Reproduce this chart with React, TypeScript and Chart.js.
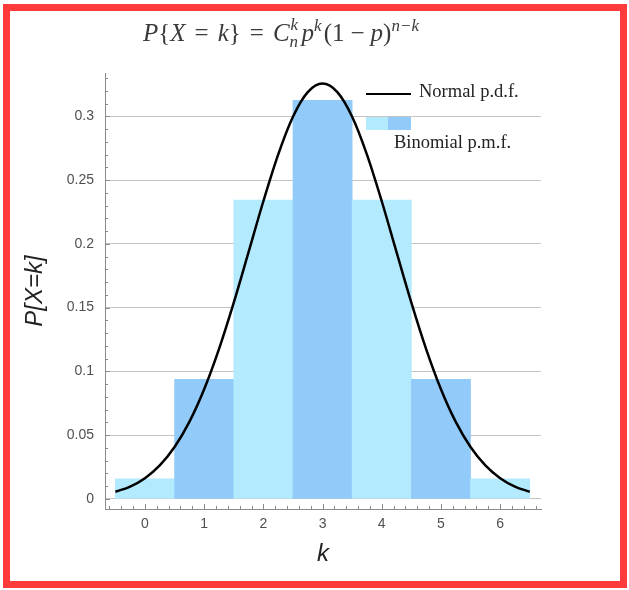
import React, { useEffect, useRef } from "react";
import { Chart, registerables } from "chart.js";

Chart.register(...registerables);

// ---- data ----
const categories = [0, 1, 2, 3, 4, 5, 6];
const binomialPmf = [0.0156, 0.0938, 0.2344, 0.3125, 0.2344, 0.0938, 0.0156];
const normalX = [
  -0.5, -0.25, 0, 0.25, 0.5, 0.75, 1, 1.25, 1.5, 1.75, 2, 2.25, 2.5, 2.75, 3,
  3.25, 3.5, 3.75, 4, 4.25, 4.5, 4.75, 5, 5.25, 5.5, 5.75, 6, 6.25, 6.5,
];
const normalPdf = [
  0.0055, 0.0096, 0.0162, 0.0262, 0.0406, 0.0603, 0.0859, 0.1174, 0.1539,
  0.1935, 0.2334, 0.27, 0.2997, 0.319, 0.3257, 0.319, 0.2997, 0.27, 0.2334,
  0.1935, 0.1539, 0.1174, 0.0859, 0.0603, 0.0406, 0.0262, 0.0162, 0.0096,
  0.0055,
];
const yTickValues = [0, 0.05, 0.1, 0.15, 0.2, 0.25, 0.3];
const xTickValues = [0, 1, 2, 3, 4, 5, 6];
const legendLabels = ["Normal p.d.f.", "Binomial p.m.f."];

// ---- styles ----
const LIGHT = "#B3EAFD";
const DARK = "#92CBF9";
const barColors = categories.map((_, i) => (i % 2 === 0 ? LIGHT : DARK));

const decorPlugin = {
  id: "decor",
  afterDraw(chart: any) {
    const ctx = chart.ctx;
    const xs = chart.scales.x;
    const ys = chart.scales.y;
    const area = chart.chartArea;
    ctx.save();
    ctx.strokeStyle = "#8a8a8a";
    ctx.lineWidth = 1;
    // x ticks (inside)
    for (let i = -3; i <= 33; i++) {
      const v = i * 0.2;
      if (v < xs.min || v > xs.max) continue;
      const px = Math.round(xs.getPixelForValue(v)) + 0.5;
      const major = i % 5 === 0;
      ctx.beginPath();
      ctx.moveTo(px, area.bottom);
      ctx.lineTo(px, area.bottom - (major ? 5 : 3));
      ctx.stroke();
    }
    // y ticks (inside)
    for (let i = 0; i <= 33; i++) {
      const v = i * 0.01;
      if (v < ys.min || v > ys.max) continue;
      const py = Math.round(ys.getPixelForValue(v)) + 0.5;
      const major = i % 5 === 0;
      ctx.beginPath();
      ctx.moveTo(area.left, py);
      ctx.lineTo(area.left + (major ? 5 : 3), py);
      ctx.stroke();
    }
    // legend
    const lx = area.right - 175;
    const ly = area.top + 21;
    ctx.strokeStyle = "#000";
    ctx.lineWidth = 2;
    ctx.beginPath();
    ctx.moveTo(lx, ly);
    ctx.lineTo(lx + 45, ly);
    ctx.stroke();
    ctx.fillStyle = "#222";
    ctx.font = "18.5px 'Liberation Serif'";
    ctx.textBaseline = "middle";
    ctx.textAlign = "left";
    ctx.fillText(legendLabels[0], lx + 53, ly - 2);
    ctx.fillStyle = LIGHT;
    ctx.fillRect(lx, ly + 23, 22, 13);
    ctx.fillStyle = DARK;
    ctx.fillRect(lx + 22, ly + 23, 23, 13);
    ctx.fillStyle = "#222";
    ctx.fillText(legendLabels[1], lx + 28, ly + 49);
    ctx.restore();
  },
};

export default function App() {
  const ref = useRef<HTMLCanvasElement | null>(null);

  useEffect(() => {
    if (!ref.current) return;
    const chart = new Chart(ref.current, {
      type: "bar",
      data: {
        datasets: [
          {
            type: "line",
            data: normalX.map((x, i) => ({ x, y: normalPdf[i] })),
            borderColor: "#000",
            borderWidth: 2.5,
            pointRadius: 0,
            cubicInterpolationMode: "monotone",
            fill: false,
            order: 0,
          } as any,
          {
            type: "bar",
            data: categories.map((x, i) => ({ x, y: binomialPmf[i] })),
            backgroundColor: barColors,
            borderWidth: 0,
            barPercentage: 1,
            categoryPercentage: 1,
            order: 1,
          } as any,
        ],
      },
      options: {
        responsive: false,
        animation: false,
        layout: { padding: { top: 73, right: 88, left: 0, bottom: 0 } },
        plugins: {
          legend: { display: false },
          tooltip: { enabled: false },
          title: { display: false },
        },
        scales: {
          x: {
            type: "linear",
            offset: false,
            min: -0.675,
            max: 6.69,
            afterBuildTicks: (s: any) => {
              s.ticks = xTickValues.map((v) => ({ value: v }));
            },
            afterFit: (s: any) => {
              s.height = 81;
            },
            grid: { display: false, drawTicks: false },
            border: { display: true, color: "#8a8a8a", width: 1 },
            ticks: {
              padding: 7,
              color: "#505050",
              font: { family: "'Liberation Sans'", size: 14 },
              callback: (v: any) => String(v),
            },
            title: {
              display: true,
              text: "k",
              color: "#222",
              font: { family: "'Liberation Sans'", size: 24, style: "italic" },
              padding: { top: 0, bottom: 21 },
            },
          },
          y: {
            type: "linear",
            min: -0.008,
            max: 0.334,
            afterBuildTicks: (s: any) => {
              s.ticks = yTickValues.map((v) => ({ value: v }));
            },
            afterFit: (s: any) => {
              s.width = 105;
            },
            grid: { display: true, color: "#c4c4c4", lineWidth: 1, drawTicks: false },
            border: { display: true, color: "#8a8a8a", width: 1 },
            ticks: {
              padding: 11,
              color: "#505050",
              font: { family: "'Liberation Sans'", size: 14 },
              callback: (v: any) => String(v),
            },
            title: {
              display: true,
              text: "P[X=k]",
              color: "#222",
              font: { family: "'Liberation Sans'", size: 24, style: "italic" },
              padding: { top: 21, bottom: 0 },
            },
          },
        },
      },
      plugins: [decorPlugin],
    });
    return () => chart.destroy();
  }, []);

  const it: React.CSSProperties = { fontStyle: "italic" };
  const sup: React.CSSProperties = {
    fontSize: "17px",
    fontStyle: "italic",
    position: "relative",
    top: "-10px",
  };
  const eq: React.CSSProperties = { margin: "0 9px" };

  return (
    <div style={{ position: "absolute", left: 0, top: 0, width: 629, height: 590, background: "#fff" }}>
      <canvas ref={ref} width={629} height={590} style={{ position: "absolute", left: 0, top: 0 }} />
      <div
        style={{
          position: "absolute",
          left: 0,
          top: 18,
          width: 562,
          textAlign: "center",
          fontFamily: "'Liberation Serif', serif",
          fontSize: 25,
          color: "#3a3a3a",
          whiteSpace: "nowrap",
          lineHeight: "30px",
        }}
      >
        <span style={it}>P</span>
        {"{"}
        <span style={it}>X</span>
        <span style={eq}>=</span>
        <span style={it}>k</span>
        {"}"}
        <span style={eq}>=</span>
        <span style={it}>C</span>
        <span
          style={{
            display: "inline-block",
            position: "relative",
            width: 12,
            height: 10,
            fontSize: "17px",
            fontStyle: "italic",
            lineHeight: "17px",
          }}
        >
          <span style={{ position: "absolute", left: 1, top: -15 }}>k</span>
          <span style={{ position: "absolute", left: 0, top: 2 }}>n</span>
        </span>
        <span style={it}>p</span>
        <span style={{ ...sup, marginRight: 2 }}>k</span>
        <span>(1</span>
        <span style={{ margin: "0 6px" }}>−</span>
        <span style={it}>p</span>
        {")"}
        <span style={sup}>n−k</span>
      </div>
      <div
        style={{
          position: "absolute",
          left: 3,
          top: 4,
          width: 624,
          height: 584,
          boxSizing: "border-box",
          border: "7px solid #FF3B3B",
          pointerEvents: "none",
        }}
      />
    </div>
  );
}
